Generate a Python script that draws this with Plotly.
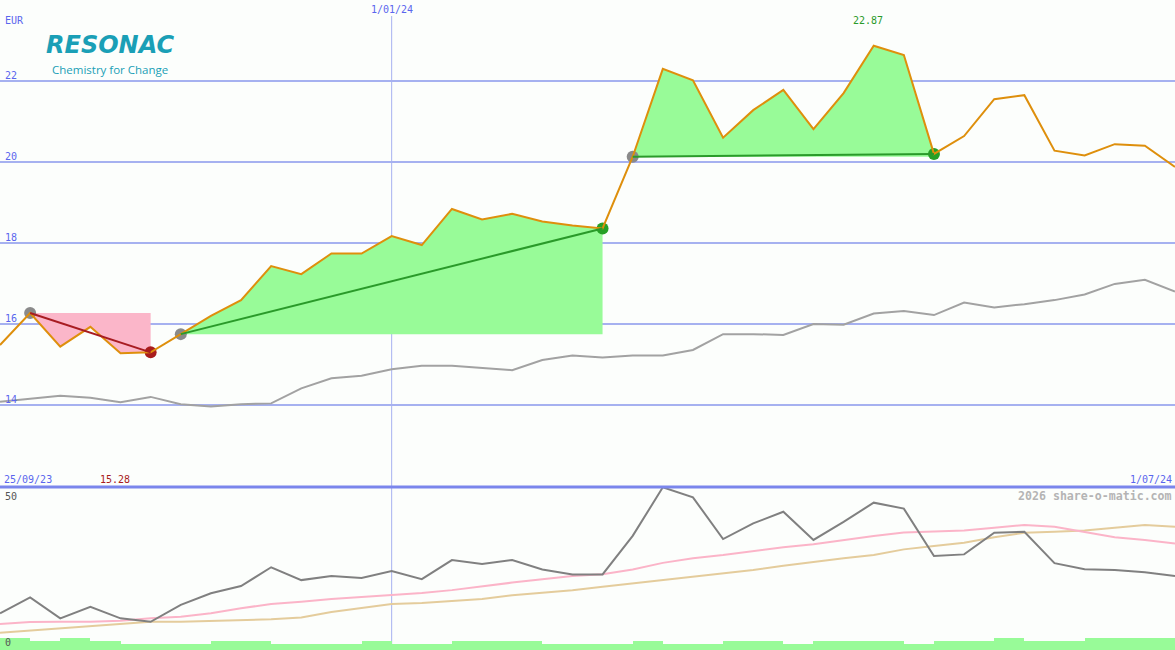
import pandas as pd
import plotly.graph_objects as go

# ---------------- data ----------------
dates = pd.date_range("2023-10-02", periods=40, freq="7D")

price = [15.48, 16.27, 15.44, 15.93, 15.28, 15.30, 15.75, 16.20, 16.59, 17.43,
         17.23, 17.74, 17.74, 18.17, 17.95, 18.84, 18.58, 18.72, 18.53, 18.43,
         18.36, 20.13, 22.30, 22.02, 20.60, 21.28, 21.78, 20.81, 21.70, 22.87,
         22.64, 20.20, 20.64, 21.55, 21.65, 20.28, 20.16, 20.44, 20.40, 19.88]

benchmark = [14.08, 14.15, 14.23, 14.18, 14.07, 14.20, 14.02, 13.96, 14.02, 14.04,
             14.41, 14.66, 14.72, 14.88, 14.97, 14.97, 14.91, 14.86, 15.11, 15.22,
             15.17, 15.22, 15.22, 15.36, 15.75, 15.75, 15.73, 16.00, 15.98, 16.26,
             16.32, 16.22, 16.53, 16.41, 16.49, 16.59, 16.73, 16.99, 17.09, 16.80]

oscillator = [11.7, 16.8, 10.1, 13.8, 10.1, 9.0, 14.4, 18.1, 20.4, 26.4,
              22.3, 23.6, 23.0, 25.2, 22.6, 28.7, 27.4, 28.7, 25.7, 24.1,
              24.1, 36.4, 51.9, 48.7, 35.4, 40.4, 44.1, 35.1, 40.9, 47.0,
              45.1, 30.0, 30.5, 37.4, 37.7, 27.7, 25.8, 25.5, 24.8, 23.6]

osc_avg_fast = [8.3, 8.9, 9.0, 9.0, 9.3, 10.1, 10.6, 11.7, 13.3, 14.7,
                15.4, 16.3, 16.9, 17.5, 18.2, 19.1, 20.4, 21.5, 22.6, 23.6,
                24.2, 25.7, 27.8, 29.3, 30.3, 31.6, 32.8, 33.7, 35.1, 36.4,
                37.5, 37.7, 38.1, 39.0, 39.9, 39.3, 37.7, 36.0, 35.1, 34.0]

osc_avg_slow = [5.5, 6.2, 7.1, 7.8, 8.5, 9.0, 9.0, 9.3, 9.6, 9.8,
                10.4, 12.1, 13.4, 14.7, 15.0, 15.6, 16.3, 17.5, 18.3, 19.1,
                20.2, 21.3, 22.3, 23.4, 24.5, 25.5, 26.9, 28.2, 29.3, 30.3,
                32.1, 33.2, 34.2, 36.0, 37.4, 37.7, 38.1, 39.0, 39.9, 39.3]

volume = [12, 9, 12, 9, 6, 6, 6, 9, 9, 6,
          6, 6, 9, 6, 6, 9, 9, 9, 6, 6,
          6, 9, 6, 6, 9, 9, 6, 9, 9, 9,
          6, 9, 9, 12, 9, 9, 12, 12, 12]

# trend segments: (start index, end index, direction)
segments = [(1, 5, "down"), (6, 20, "up"), (21, 31, "up")]

price_ticks = [14, 16, 18, 20, 22]
max_label = "22.87"
min_label = "15.28"
x_labels = ["25/09/23", "1/01/24", "1/07/24"]

# ---------------- styles ----------------
W, H = 1175, 650
BG = "#fcfefc"
GRID = "#a6b1f0"
LABEL = "#5a66ee"
ORANGE = "#de8f0c"
MONO = "DejaVu Sans Mono"
TEAL = "#1a9fb6"

fig = go.Figure()

# fills
for s, e, kind in segments:
    lvl = price[s]
    xs = [dates[s], dates[e]] + [dates[k] for k in range(e, s - 1, -1)]
    ys = [lvl, lvl] + [price[k] for k in range(e, s - 1, -1)]
    fig.add_trace(go.Scatter(x=xs, y=ys, fill="toself", mode="none",
                             fillcolor="#fbb6c9" if kind == "down" else "#98fb98",
                             hoverinfo="skip", showlegend=False))

# markers
for s, e, kind in segments:
    fig.add_trace(go.Scatter(x=[dates[s]], y=[price[s]], mode="markers",
                             marker=dict(size=12, color="#8a8a8a"),
                             showlegend=False, hoverinfo="skip"))
    fig.add_trace(go.Scatter(x=[dates[e]], y=[price[e]], mode="markers",
                             marker=dict(size=12, color="#a81c1c" if kind == "down" else "#26a026"),
                             showlegend=False, hoverinfo="skip"))

# benchmark
fig.add_trace(go.Scatter(x=dates, y=benchmark, mode="lines",
                         line=dict(color="#a2a2a2", width=2),
                         showlegend=False, hoverinfo="skip"))
# price
fig.add_trace(go.Scatter(x=dates, y=price, mode="lines",
                         line=dict(color=ORANGE, width=2),
                         showlegend=False, hoverinfo="skip"))
# trend lines
for s, e, kind in segments:
    fig.add_trace(go.Scatter(x=[dates[s], dates[e]], y=[price[s], price[e]], mode="lines",
                             line=dict(color="#a81c22" if kind == "down" else "#2a9a2a", width=2),
                             showlegend=False, hoverinfo="skip"))

# lower panel
fig.add_trace(go.Bar(x=dates[:-1], y=volume, width=7 * 86400000, offset=0,
                     marker=dict(color="#98fb98", line=dict(width=0)),
                     xaxis="x2", yaxis="y3", showlegend=False, hoverinfo="skip"))
fig.add_trace(go.Scatter(x=dates, y=osc_avg_slow, mode="lines",
                         line=dict(color="#e4cc9c", width=2),
                         xaxis="x2", yaxis="y2", showlegend=False, hoverinfo="skip"))
fig.add_trace(go.Scatter(x=dates, y=osc_avg_fast, mode="lines",
                         line=dict(color="#fbb4c8", width=2),
                         xaxis="x2", yaxis="y2", showlegend=False, hoverinfo="skip"))
fig.add_trace(go.Scatter(x=dates, y=oscillator, mode="lines",
                         line=dict(color="#808080", width=2),
                         xaxis="x2", yaxis="y2", showlegend=False, hoverinfo="skip"))

split = 163 / H
xr = [dates[0], dates[-1]]
fig.update_layout(
    width=W, height=H, autosize=False,
    margin=dict(l=0, r=0, t=0, b=0, pad=0),
    paper_bgcolor=BG, plot_bgcolor=BG,
    showlegend=False,
    xaxis=dict(domain=[0, 1], range=xr, anchor="y", showgrid=False, zeroline=False,
               showticklabels=False, showline=False, ticks=""),
    yaxis=dict(domain=[split, 1], range=[24.0 - 487 / 40.5, 24.0], tickvals=price_ticks,
               showgrid=True, gridcolor=GRID, gridwidth=2, zeroline=False,
               showticklabels=False, showline=False, ticks=""),
    xaxis2=dict(domain=[0, 1], range=xr, anchor="y2", matches="x", showgrid=False,
                zeroline=False, showticklabels=False, showline=False, ticks=""),
    yaxis2=dict(domain=[0, split], range=[0, 52], showgrid=False, zeroline=False,
                showticklabels=False, showline=False, ticks=""),
    yaxis3=dict(domain=[0, split], range=[0, 163], overlaying="y2", anchor="x2",
                showgrid=False, zeroline=False, showticklabels=False, showline=False, ticks=""),
    bargap=0,
)

def py(p):
    return 1 - p / H

shapes = [
    dict(type="line", xref="x", yref="paper", x0=pd.Timestamp("2024-01-01"),
         x1=pd.Timestamp("2024-01-01"), y0=0, y1=py(16),
         line=dict(color=GRID, width=1), layer="below"),
    dict(type="line", xref="paper", yref="paper", x0=0, x1=1, y0=py(487), y1=py(487),
         line=dict(color="#7a86ec", width=3)),
]
fig.update_layout(shapes=shapes)

ann = []
def txt(text, x, y, xanchor="left", color=LABEL, size=10, family=MONO, xref="paper",
        yref="paper", yanchor="middle", xshift=0, yshift=0):
    ann.append(dict(text=text, x=x, y=y, xref=xref, yref=yref, xanchor=xanchor, yanchor=yanchor,
                    xshift=xshift, yshift=yshift, showarrow=False, borderpad=0,
                    font=dict(family=family, size=size, color=color)))

txt("EUR", 4 / W, py(20))
for v in price_ticks:
    txt(str(v), 4 / W, v, yref="y", yanchor="bottom", yshift=-1)
txt(x_labels[1], pd.Timestamp("2024-01-01"), py(10), xanchor="center", xref="x")
txt(max_label, dates[price.index(max(price))], py(21), xanchor="center", xref="x",
    color="#2a9a2a", xshift=-6)
txt(x_labels[0], 3 / W, py(479))
txt(min_label, dates[price.index(min(price))], py(479), xanchor="center", xref="x",
    color="#a81c1c", xshift=-6)
txt(x_labels[2], 1173 / W, py(479), xanchor="right")
txt("<b>2026 share-o-matic.com</b>", 1173 / W, py(496), xanchor="right", color="#b4b4b4", size=11.6)
txt("50", 4 / W, py(496), color="#555555")
txt("0", 4 / W, py(642), color="#555555")
txt("<b><i>RESONAC</i></b>", 110 / W, py(45), xanchor="center", color=TEAL, size=24, family="DejaVu Sans")
txt("Chemistry for Change", 110 / W, py(69), xanchor="center", color=TEAL, size=11.5, family="Open Sans")
fig.update_layout(annotations=ann)

fig.write_html("out.html", config={"displayModeBar": False},
               post_script="document.body.style.margin='0';document.body.style.overflow='hidden';")
